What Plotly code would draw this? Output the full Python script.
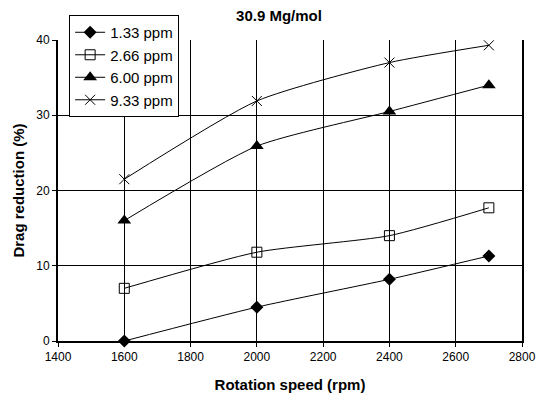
import plotly.graph_objects as go

speed = [1600, 2000, 2400, 2700]
series_names = ["1.33 ppm", "2.66 ppm", "6.00 ppm", "9.33 ppm"]
dr_133 = [0.0, 4.5, 8.2, 11.3]
dr_266 = [7.0, 11.8, 14.0, 17.7]
dr_600 = [16.0, 25.9, 30.5, 34.0]
dr_933 = [21.5, 31.9, 37.0, 39.3]

values = [dr_133, dr_266, dr_600, dr_933]
markers = [
    dict(symbol="diamond", size=10, color="black"),
    dict(symbol="square-open", size=10, color="black", line=dict(width=1, color="black")),
    dict(symbol="triangle-up", size=12, color="black"),
    dict(symbol="x-thin-open", size=10, color="black", line=dict(width=1, color="black")),
]

fig = go.Figure()
for name, v, m in zip(series_names, values, markers):
    fig.add_trace(go.Scatter(
        x=speed, y=v, name=name, mode="lines+markers",
        line=dict(color="black", width=1, shape="spline", smoothing=0.6),
        marker=m, cliponaxis=False,
    ))

font = "Liberation Sans, Arial, sans-serif"
fig.update_layout(
    width=537, height=398,
    margin=dict(l=58, r=15, t=40, b=57),
    paper_bgcolor="white", plot_bgcolor="white",
    font=dict(family=font, size=12, color="black"),
    title=dict(text="<b>30.9 Mg/mol</b>", x=(279 / 537), xanchor="center",
               y=1 - 16 / 398, yanchor="middle", font=dict(size=15)),
    showlegend=True,
    legend=dict(x=0.024, y=1.083, xanchor="left", yanchor="top",
                bgcolor="white", bordercolor="black", borderwidth=1,
                font=dict(size=15), itemwidth=30, tracegroupgap=0),
    xaxis=dict(range=[1400, 2800], dtick=200, tick0=1400, automargin=False,
               showgrid=True, gridcolor="black", gridwidth=1,
               showline=True, linecolor="black", linewidth=2,
               ticks="outside", ticklen=4, tickcolor="black",
               zeroline=False,
               title=dict(text="<b>Rotation speed (rpm)</b>", font=dict(size=15), standoff=16)),
    yaxis=dict(range=[0, 40], dtick=10, automargin=False,
               showgrid=True, gridcolor="black", gridwidth=1,
               showline=True, linecolor="black", linewidth=2, mirror=True,
               ticks="outside", ticklen=4, tickcolor="black",
               zeroline=False,
               title=dict(text="<b>Drag reduction (%)</b>", font=dict(size=15), standoff=8)),
)

fig.write_html("out.html")
